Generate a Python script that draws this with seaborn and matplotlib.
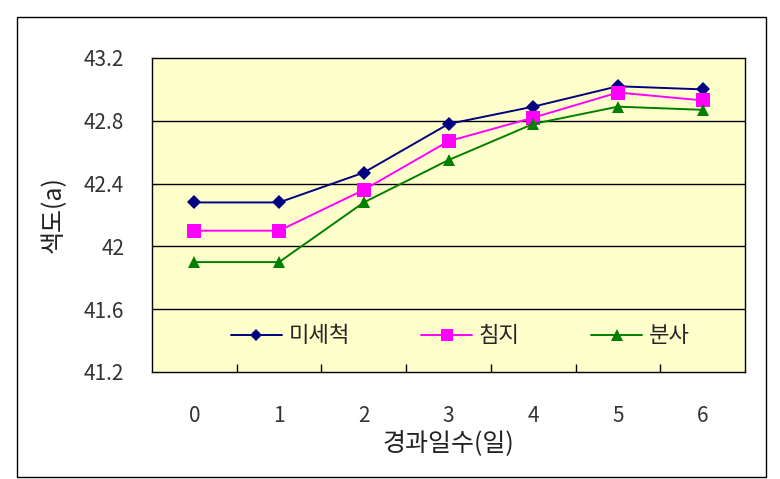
import matplotlib
matplotlib.use("Agg")
import matplotlib.pyplot as plt
import matplotlib.patches as patches
from matplotlib.ticker import FixedLocator
import seaborn as sns
import pandas as pd

days = [0, 1, 2, 3, 4, 5, 6]
day_labels = ["0", "1", "2", "3", "4", "5", "6"]
series_names = ["미세척", "침지", "분사"]
v_unwashed = [42.28, 42.28, 42.47, 42.78, 42.89, 43.02, 43.00]
v_soak = [42.10, 42.10, 42.36, 42.67, 42.82, 42.98, 42.93]
v_spray = [41.90, 41.90, 42.28, 42.55, 42.78, 42.89, 42.87]
y_ticks = [41.2, 41.6, 42.0, 42.4, 42.8, 43.2]
y_tick_labels = ["41.2", "41.6", "42", "42.4", "42.8", "43.2"]

sns.set_style("white")
plt.rcParams["font.family"] = ["Noto Sans CJK KR", "DejaVu Sans"]

df = pd.DataFrame({
    "day": days * 3,
    "value": v_unwashed + v_soak + v_spray,
    "series": [series_names[0]] * 7 + [series_names[1]] * 7 + [series_names[2]] * 7,
})

fig = plt.figure(figsize=(7.8, 4.79), dpi=100)
ax = fig.add_axes([152 / 780, 1 - 372 / 479, (745 - 152) / 780, (372 - 58) / 479])
ax.set_facecolor("#FFFFCC")

palette = {"미세척": "#000080", "침지": "#FF00FF", "분사": "#008000"}
markers = {"미세척": "D", "침지": "s", "분사": "^"}
sizes_m = {"미세척": 7, "침지": 10, "분사": 9}

sns.lineplot(data=df, x="day", y="value", hue="series", style="series",
             palette=palette, markers=markers, dashes=False, linewidth=1.4,
             markersize=9, markeredgewidth=0, ax=ax, zorder=3)
for line, name in zip(ax.lines, series_names):
    line.set_markersize(sizes_m[name])

for y in y_ticks[1:-1]:
    ax.axhline(y, color="black", linewidth=1.0, zorder=1)

ax.set_xlim(-0.5, 6.5)
ax.set_ylim(41.2, 43.2)
ax.set_xticks(days)
ax.set_xticklabels(day_labels)
ax.xaxis.set_minor_locator(FixedLocator([0.5, 1.5, 2.5, 3.5, 4.5, 5.5]))
ax.tick_params(axis="x", which="major", length=0, pad=24, labelsize=15, colors="#333333")
ax.tick_params(axis="x", which="minor", direction="in", length=6, width=1, color="black", top=False, bottom=True)
ax.set_yticks(y_ticks)
ax.set_yticklabels(y_tick_labels)
ax.tick_params(axis="y", length=0, pad=20, labelsize=15, colors="#333333")
for s in ax.spines.values():
    s.set_visible(True)
    s.set_color("black")
    s.set_linewidth(1.0)

ax.set_xlabel("경과일수(일)", fontsize=18, labelpad=2, color="#222222", fontweight="medium")
ax.set_ylabel("색도(a)", fontsize=18, labelpad=12, color="#222222", fontweight="medium")

handles, labels = ax.get_legend_handles_labels()
leg = ax.legend(handles, labels, loc="center", bbox_to_anchor=(0.52, 0.115), ncol=3,
                frameon=False, fontsize=16, handlelength=2.3, columnspacing=3.2,
                handletextpad=0.3)
for h, name in zip(leg.legend_handles, labels):
    h.set_markersize(sizes_m[name] - 1)

fig.patches.append(patches.Rectangle((17 / 780, 1 - 477 / 479), (766 - 17) / 780, (477 - 17) / 479,
                                     transform=fig.transFigure, fill=False,
                                     edgecolor="black", linewidth=1.0))

fig.savefig("out.png", dpi=100, facecolor="white")
